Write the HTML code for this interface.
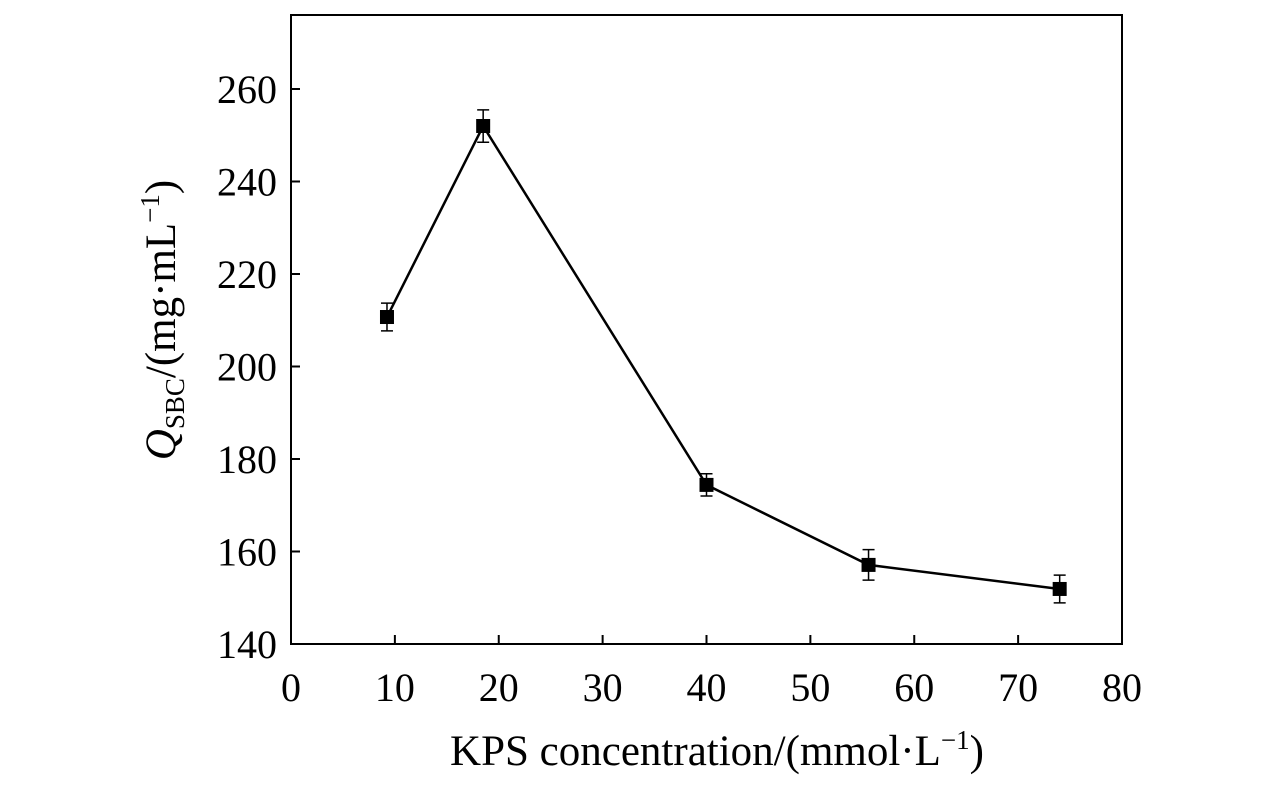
<!DOCTYPE html>
<html><head><meta charset="utf-8"><style>
body{margin:0;background:#fff;}
svg text{font-family:"Liberation Serif",serif;fill:#000;}
</style></head><body>
<svg width="1276" height="787" viewBox="0 0 1276 787" id="chart">
</svg>
<script>
const xValues=[9.24,18.5,40.0,55.6,74.0];
const yValues=[210.7,252.0,174.4,157.1,151.9];
const yErrors=[3.0,3.5,2.4,3.3,3.0];
const xTicks=[0,10,20,30,40,50,60,70,80];
const yTicks=[140,160,180,200,220,240,260];
const L=291,R=1122,T=15,B=644;
const xs=v=>L+(v-0)/80*(R-L);
const ys=v=>B-(v-140)/120*555;
const svg=document.getElementById('chart');
const NS='http://www.w3.org/2000/svg';
function mk(tag,attrs){const e=document.createElementNS(NS,tag);for(const k in attrs)e.setAttribute(k,attrs[k]);svg.appendChild(e);return e;}
let e=mk('rect',{x:L,y:T,width:R-L,height:B-T,fill:'none',stroke:'#000','stroke-width':2});


xTicks.forEach(t=>{
 let l=mk('line',{x1:xs(t),x2:xs(t),y1:B,y2:B-9,stroke:'#000','stroke-width':2});
 
 
 let tx=mk('text',{x:xs(t),y:B+57,'font-size':40,'text-anchor':'middle'});tx.textContent=t;
 
 
});
yTicks.forEach(t=>{
 let l=mk('line',{x1:L,x2:L+9,y1:ys(t),y2:ys(t),stroke:'#000','stroke-width':2});
 
 
 let tx=mk('text',{x:L-14,y:ys(t)+14,'font-size':40,'text-anchor':'end'});tx.textContent=t;
 
 
});
let pts=xValues.map((x,i)=>xs(x)+','+ys(yValues[i])).join(' ');
let pl=mk('polyline',{points:pts,fill:'none',stroke:'#000','stroke-width':2.5});


xValues.forEach((x,i)=>{
 const cx=xs(x),y1=ys(yValues[i]+yErrors[i]),y2=ys(yValues[i]-yErrors[i]);
 let g=mk('path',{d:`M${cx},${y1}V${y2}M${cx-6},${y1}H${cx+6}M${cx-6},${y2}H${cx+6}`,stroke:'#000','stroke-width':1.5,fill:'none'});
 
 
 let r=mk('rect',{x:cx-7,y:ys(yValues[i])-7,width:14,height:14,fill:'#000'});
 
 
});
let xt=mk('text',{x:717,y:765,'font-size':43,'text-anchor':'middle'});
xt.innerHTML='KPS concentration/(mmol·L<tspan dy="-16" font-size="27">−1</tspan><tspan dy="16">)</tspan>';


let yt=mk('text',{transform:'translate(175,320) rotate(-90)','font-size':43,'text-anchor':'middle'});
yt.innerHTML='<tspan font-style="italic">Q</tspan><tspan font-size="27" dy="9">SBC</tspan><tspan dy="-9">/(mg·mL</tspan><tspan dy="-16" font-size="27">−1</tspan><tspan dy="16">)</tspan>';


</script>
</body></html>
